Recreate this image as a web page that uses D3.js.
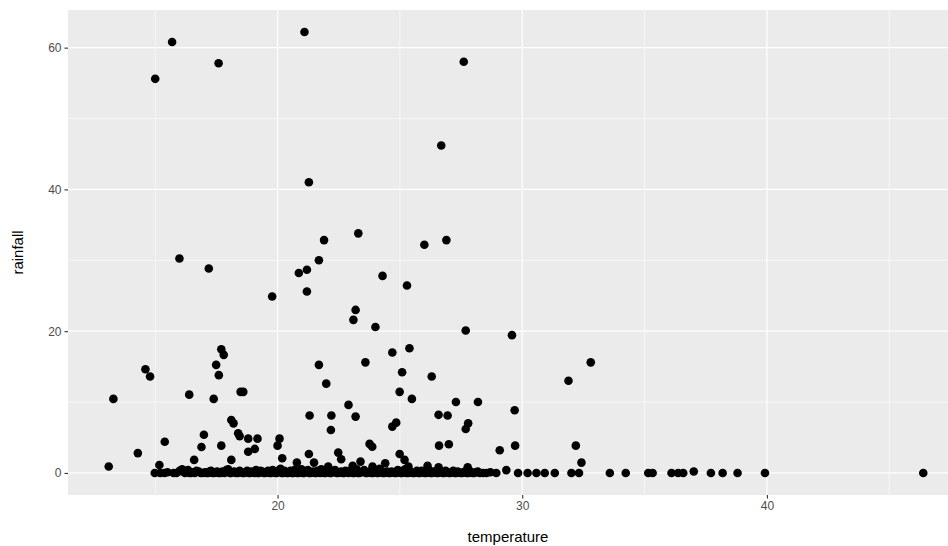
<!DOCTYPE html>
<html lang="en">
  <head>
    <meta charset="utf-8">
    <title>rainfall vs temperature</title>
    <script src="https://cdn.jsdelivr.net/npm/d3@7" charset="utf-8"></script>
    <style type="text/css">
        body {
            margin: 0;
            background: #fff;
        }
        svg {
            display: block;
            font-family: "Liberation Sans", Arial, Helvetica, sans-serif;
        }
    </style>
  </head>
  <body>
    <script type="text/javascript">
        // [temperature, rainfall]
        var heavyRain = [
            [15.69, 60.8], [15.0, 55.6], [17.59, 57.8], [21.10, 62.2], [27.61, 58.0],
            [26.69, 46.2], [21.28, 41.0], [23.30, 33.8], [21.90, 32.85], [26.90, 32.85],
            [26.0, 32.2], [15.99, 30.25], [17.19, 28.85], [21.69, 30.0], [20.87, 28.2],
            [21.2, 28.66], [24.29, 27.8], [25.29, 26.45], [21.2, 25.6], [19.78, 24.9],
            [23.19, 23.0], [23.1, 21.6], [24.0, 20.6], [27.69, 20.1], [29.58, 19.44],
            [17.70, 17.46], [17.8, 16.66], [17.49, 15.25], [17.6, 13.8], [17.39, 10.45],
            [18.49, 11.44], [18.6, 11.44], [21.69, 15.25], [21.99, 12.6], [23.59, 15.6],
            [24.69, 17.0], [25.39, 17.6], [25.09, 14.2], [26.30, 13.6], [24.99, 11.44],
            [25.49, 10.45], [22.9, 9.6], [21.31, 8.1], [22.2, 8.1], [23.19, 7.95],
            [24.85, 7.1], [24.69, 6.54], [26.58, 8.2], [26.95, 8.1], [18.11, 7.48],
            [18.2, 7.0], [13.29, 10.45], [14.6, 14.64], [14.79, 13.6], [16.39, 11.05],
            [18.39, 5.6], [18.45, 5.2], [16.99, 5.4], [22.18, 6.07], [32.8, 15.6],
            [31.89, 13.0], [27.29, 10.0], [28.19, 10.0], [29.69, 8.85], [27.79, 7.0],
            [27.69, 6.2]
        ];

        var lightRain = [
            [13.1, 0.9], [14.29, 2.8], [15.39, 4.4], [15.17, 1.13], [16.89, 3.67],
            [17.70, 3.85], [16.59, 1.84], [18.11, 1.84], [18.8, 4.84], [19.18, 4.84],
            [18.8, 3.0], [19.07, 3.39], [20.08, 4.84], [20.0, 3.85], [20.19, 2.07],
            [20.79, 1.46], [21.28, 2.68], [21.49, 1.46], [22.07, 0.9], [22.48, 2.87],
            [22.6, 1.93], [23.76, 4.1], [23.87, 3.7], [26.6, 3.85], [27.0, 4.05],
            [29.08, 3.2], [29.71, 3.85], [32.19, 3.85], [32.42, 1.46], [24.99, 2.68],
            [25.19, 1.84], [23.39, 1.6], [24.4, 1.37], [26.13, 1.0], [26.58, 0.8],
            [27.77, 0.8], [25.35, 0.9], [23.88, 0.9], [23.07, 1.0], [16.1, 0.5]
        ];

        var dryDays = [
            [14.98, 0], [15.38, 0], [15.87, 0], [16.11, 0.2], [16.40, 0], [16.55, 0.1],
            [16.69, 0.3], [16.86, 0], [17.10, 0], [17.22, 0.2], [17.34, 0], [17.47, 0.1],
            [17.59, 0], [17.75, 0.2], [17.91, 0.4], [18.05, 0], [18.16, 0.1], [18.30, 0],
            [18.45, 0.3], [18.57, 0], [18.69, 0.1], [18.82, 0], [18.94, 0.2], [19.06, 0],
            [19.18, 0], [19.30, 0.3], [19.43, 0], [19.55, 0.1], [19.67, 0], [19.80, 0.4],
            [19.92, 0], [20.02, 0.2], [20.12, 0.6], [20.22, 0], [20.33, 0.1], [20.43, 0],
            [20.53, 0.3], [20.64, 0], [20.74, 0.1], [20.86, 0], [20.98, 0.5], [21.08, 0],
            [21.19, 0.2], [21.29, 0], [21.39, 0.1], [21.52, 0], [21.64, 0.3], [21.74, 0],
            [21.84, 0.1], [21.96, 0], [22.09, 0.4], [22.19, 0], [22.29, 0.2], [22.41, 0],
            [22.54, 0.1], [22.66, 0], [22.78, 0.3], [22.90, 0], [23.03, 0.1], [23.13, 0],
            [23.23, 0.5], [23.35, 0], [23.48, 0.2], [23.60, 0], [23.72, 0.1], [23.84, 0],
            [23.97, 0.3], [24.07, 0], [24.17, 0.6], [24.30, 0], [24.42, 0.1], [24.54, 0],
            [24.66, 0.2], [24.78, 0], [24.91, 0.4], [25.03, 0], [25.15, 0.1], [25.27, 0],
            [25.40, 0.2], [25.52, 0], [25.64, 0.1], [25.76, 0], [25.89, 0.3], [26.01, 0],
            [26.13, 0.1], [26.25, 0], [26.38, 0.2], [26.50, 0], [26.63, 0.1], [26.75, 0],
            [26.87, 0.3], [27.00, 0], [27.12, 0.1], [27.24, 0], [27.36, 0.2], [27.48, 0],
            [27.61, 0.1], [27.73, 0], [27.85, 0.3], [27.97, 0], [28.10, 0.1], [28.26, 0],
            [28.54, 0], [28.94, 0], [29.35, 0.4], [29.83, 0], [30.22, 0], [30.58, 0],
            [30.92, 0], [31.33, 0], [32.01, 0], [32.32, 0], [33.58, 0], [34.23, 0],
            [35.15, 0], [35.33, 0], [36.10, 0], [36.37, 0], [36.58, 0], [37.01, 0.2],
            [37.71, 0], [38.19, 0], [38.80, 0], [39.92, 0], [46.39, 0]
        ];

        // more near-zero days that fill the dense band along rainfall = 0
        var traceDays = [
            [15.20, 0], [15.50, 0.1], [15.75, 0], [16.00, 0.3], [16.22, 0], [16.34, 0.4],
            [16.47, 0], [16.62, 0], [16.78, 0.2], [16.95, 0], [17.04, 0.1], [17.16, 0],
            [17.28, 0.3], [17.41, 0], [17.53, 0.2], [17.67, 0], [17.83, 0], [17.98, 0.5],
            [18.10, 0], [18.23, 0.2], [18.38, 0], [18.51, 0.1], [18.63, 0], [18.76, 0.3],
            [18.88, 0], [19.00, 0.1], [19.12, 0.4], [19.24, 0], [19.37, 0.2], [19.49, 0],
            [19.61, 0.3], [19.74, 0], [19.86, 0.1], [19.97, 0], [20.07, 0.4], [20.17, 0],
            [20.28, 0.3], [20.38, 0], [20.48, 0.1], [20.59, 0], [20.69, 0.4], [20.80, 0],
            [20.92, 0.2], [21.03, 0], [21.14, 0.1], [21.24, 0.4], [21.34, 0], [21.46, 0.2],
            [21.58, 0], [21.69, 0.1], [21.79, 0.5], [21.90, 0], [22.02, 0.2], [22.14, 0],
            [22.24, 0.1], [22.35, 0.4], [22.48, 0], [22.60, 0.2], [22.72, 0], [22.84, 0.1],
            [22.96, 0.3], [23.08, 0], [23.18, 0.2], [23.29, 0], [23.42, 0.1], [23.54, 0.4],
            [23.66, 0], [23.78, 0.2], [23.90, 0], [24.02, 0.1], [24.12, 0], [24.24, 0.3],
            [24.36, 0], [24.48, 0.2], [24.60, 0], [24.72, 0.1], [24.85, 0], [24.97, 0.3],
            [25.09, 0], [25.21, 0.5], [25.34, 0], [25.46, 0.1], [25.58, 0], [25.70, 0.3],
            [25.82, 0], [25.95, 0.1], [26.07, 0], [26.19, 0.4], [26.31, 0], [26.44, 0.1],
            [26.56, 0], [26.69, 0.2], [26.81, 0], [26.93, 0.1], [27.06, 0], [27.18, 0.3],
            [27.30, 0], [27.42, 0.1], [27.55, 0], [27.67, 0.2], [27.79, 0], [27.91, 0.1],
            [28.04, 0], [28.18, 0.2], [28.40, 0], [28.70, 0.1]
        ];

        var xTicks = [20, 30, 40],
            xMinor = [15, 25, 35, 45],
            yTicks = [0, 20, 40, 60],
            yMinor = [10, 30, 50];

        var W = 948, H = 546;
        var panel = { left: 68, right: 964, top: 10, bottom: 495 };

        var svg = d3.select("body").append("svg")
            .attr("width", W)
            .attr("height", H);

        var points = heavyRain.concat(lightRain, dryDays, traceDays);

        // ggplot style 5% expansion of the data range
        var xExt = d3.extent(points, function (d) { return d[0]; }),
            yExt = d3.extent(points, function (d) { return d[1]; });
        var xPad = (xExt[1] - xExt[0]) * 0.05,
            yPad = (yExt[1] - yExt[0]) * 0.05;

        var x = d3.scaleLinear()
            .domain([xExt[0] - xPad, xExt[1] + xPad])
            .range([panel.left, panel.right]);
        var y = d3.scaleLinear()
            .domain([yExt[0] - yPad, yExt[1] + yPad])
            .range([panel.bottom, panel.top]);

        // panel background
        svg.append("rect")
            .attr("x", panel.left)
            .attr("y", panel.top)
            .attr("width", panel.right - panel.left)
            .attr("height", panel.bottom - panel.top)
            .attr("fill", "#ebebeb");

        var grid = svg.append("g");
        grid.selectAll(".xminor").data(xMinor).enter().append("line")
            .attr("x1", x).attr("x2", x)
            .attr("y1", panel.top).attr("y2", panel.bottom)
            .attr("stroke", "#fff").attr("stroke-width", 0.6);
        grid.selectAll(".yminor").data(yMinor).enter().append("line")
            .attr("y1", y).attr("y2", y)
            .attr("x1", panel.left).attr("x2", panel.right)
            .attr("stroke", "#fff").attr("stroke-width", 0.6);
        grid.selectAll(".xmajor").data(xTicks).enter().append("line")
            .attr("x1", x).attr("x2", x)
            .attr("y1", panel.top).attr("y2", panel.bottom)
            .attr("stroke", "#fff").attr("stroke-width", 1.2);
        grid.selectAll(".ymajor").data(yTicks).enter().append("line")
            .attr("y1", y).attr("y2", y)
            .attr("x1", panel.left).attr("x2", panel.right)
            .attr("stroke", "#fff").attr("stroke-width", 1.2);

        // points
        svg.append("g").selectAll("circle")
            .data(points)
            .enter()
            .append("circle")
            .attr("cx", function (d) { return x(d[0]); })
            .attr("cy", function (d) { return y(d[1]); })
            .attr("r", 4.3)
            .attr("fill", "#000");

        // axes
        var xAxis = svg.append("g")
            .attr("transform", "translate(0," + panel.bottom + ")")
            .call(d3.axisBottom(x).tickValues(xTicks).tickSize(3.5).tickPadding(3));
        var yAxis = svg.append("g")
            .attr("transform", "translate(" + panel.left + ",0)")
            .call(d3.axisLeft(y).tickValues(yTicks).tickSize(3.5).tickPadding(3));

        [xAxis, yAxis].forEach(function (a) {
            a.select(".domain").remove();
            a.selectAll(".tick line").attr("stroke", "#333").attr("stroke-width", 1.1);
            a.selectAll(".tick text")
                .attr("fill", "#4d4d4d")
                .style("font-size", "12px")
                .style("font-family", "'Liberation Sans', Arial, sans-serif");
        });

        // axis titles
        svg.append("text")
            .attr("x", (panel.left + W) / 2)
            .attr("y", 542)
            .attr("text-anchor", "middle")
            .style("font-size", "15px")
            .attr("fill", "#000")
            .text("temperature");

        svg.append("text")
            .attr("transform", "translate(23," + (panel.top + panel.bottom) / 2 + ") rotate(-90)")
            .attr("text-anchor", "middle")
            .style("font-size", "15px")
            .attr("fill", "#000")
            .text("rainfall");
    </script>
  </body>
</html>
